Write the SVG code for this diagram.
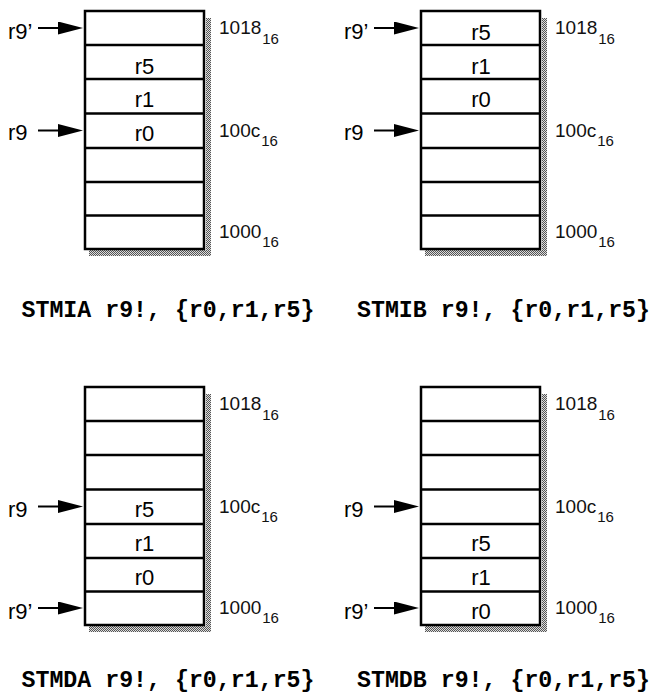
<svg xmlns="http://www.w3.org/2000/svg" width="671" height="700" viewBox="0 0 671 700">
<defs>
<style>
.cell{fill:#fff;stroke:#000;stroke-width:2.5}
.sep{stroke:#000;stroke-width:2.5}
.lbl{font-family:"Liberation Sans",Arial,sans-serif;font-size:22px;fill:#000}
.val{font-family:"Liberation Sans",Arial,sans-serif;font-size:22px;fill:#000;text-anchor:middle}
.addr{font-family:"Liberation Sans",Arial,sans-serif;font-size:19px;fill:#111}
.cap{font-family:"Liberation Mono","Courier New",monospace;font-size:23px;font-weight:bold;fill:#000}
.arr{stroke:#000;stroke-width:2;fill:none;marker-end:url(#ah)}
</style>
<pattern id="dots" width="2" height="2" patternUnits="userSpaceOnUse">
<rect width="2" height="2" fill="#ddd"/>
<rect width="1" height="1" fill="#555"/>
<rect x="1" y="1" width="1" height="1" fill="#555"/>
</pattern>
<marker id="ah" markerUnits="userSpaceOnUse" markerWidth="25" markerHeight="14" refX="1" refY="6.5" orient="auto">
<path d="M0,0 L25,6.5 L0,13 Z" fill="#000"/>
</marker>
<g id="stack">
<rect x="206" y="18" width="5" height="238" fill="url(#dots)"/>
<rect x="89" y="250" width="122" height="6" fill="url(#dots)"/>
<rect class="cell" x="85" y="11" width="119" height="238"/>
<line class="sep" x1="85" y1="45" x2="204" y2="45"/>
<line class="sep" x1="85" y1="79" x2="204" y2="79"/>
<line class="sep" x1="85" y1="113.5" x2="204" y2="113.5"/>
<line class="sep" x1="85" y1="148" x2="204" y2="148"/>
<line class="sep" x1="85" y1="182" x2="204" y2="182"/>
<line class="sep" x1="85" y1="215.5" x2="204" y2="215.5"/>
<text class="addr" x="219" y="34">1018<tspan font-size="15" dx="1" dy="10">16</tspan></text>
<text class="addr" x="219" y="137">100c<tspan font-size="15" dx="1" dy="9">16</tspan></text>
<text class="addr" x="219" y="238">1000<tspan font-size="15" dx="1" dy="9">16</tspan></text>
</g>
</defs>

<g id="stmia">
<use href="#stack"/>
<g id="stmia-cells">
<text class="val" x="144.5" y="73.5">r5</text>
<text class="val" x="144.5" y="107">r1</text>
<text class="val" x="144.5" y="141">r0</text>
</g>
<text class="lbl" x="8" y="38.5">r9’</text>
<text class="lbl" x="8" y="140">r9</text>
<text class="cap" x="21.5" y="317" textLength="293" lengthAdjust="spacingAndGlyphs">STMIA r9!, {r0,r1,r5}</text>
</g>

<g id="stmib">
<use href="#stack" transform="translate(336,0)"/>
<g id="stmib-cells">
<text class="val" x="481" y="39.5">r5</text>
<text class="val" x="481" y="73.5">r1</text>
<text class="val" x="481" y="107">r0</text>
</g>
<text class="lbl" x="344" y="38.5">r9’</text>
<text class="lbl" x="344" y="140">r9</text>
<text class="cap" x="357" y="317" textLength="293" lengthAdjust="spacingAndGlyphs">STMIB r9!, {r0,r1,r5}</text>
</g>

<g id="stmda">
<use href="#stack" transform="translate(0,376)"/>
<g id="stmda-cells">
<text class="val" x="144.5" y="517">r5</text>
<text class="val" x="144.5" y="551">r1</text>
<text class="val" x="144.5" y="584.5">r0</text>
</g>
<text class="lbl" x="8" y="516.5">r9</text>
<text class="lbl" x="8" y="618.5">r9’</text>
<text class="cap" x="21.5" y="687" textLength="293" lengthAdjust="spacingAndGlyphs">STMDA r9!, {r0,r1,r5}</text>
</g>

<g id="stmdb">
<use href="#stack" transform="translate(336,376)"/>
<g id="stmdb-cells">
<text class="val" x="481" y="551">r5</text>
<text class="val" x="481" y="584.5">r1</text>
<text class="val" x="481" y="618.5">r0</text>
</g>
<text class="lbl" x="344" y="516.5">r9</text>
<text class="lbl" x="344" y="618.5">r9’</text>
<text class="cap" x="357" y="687" textLength="293" lengthAdjust="spacingAndGlyphs">STMDB r9!, {r0,r1,r5}</text>
</g>

<g id="connectors">
<path class="arr" d="M38,28 H59"/>
<path class="arr" d="M38,130.5 H59"/>
<path class="arr" d="M374,28 H395"/>
<path class="arr" d="M374,130.5 H395"/>
<path class="arr" d="M38,506.5 H59"/>
<path class="arr" d="M38,608 H59"/>
<path class="arr" d="M374,506.5 H395"/>
<path class="arr" d="M374,608 H395"/>
</g>
</svg>
